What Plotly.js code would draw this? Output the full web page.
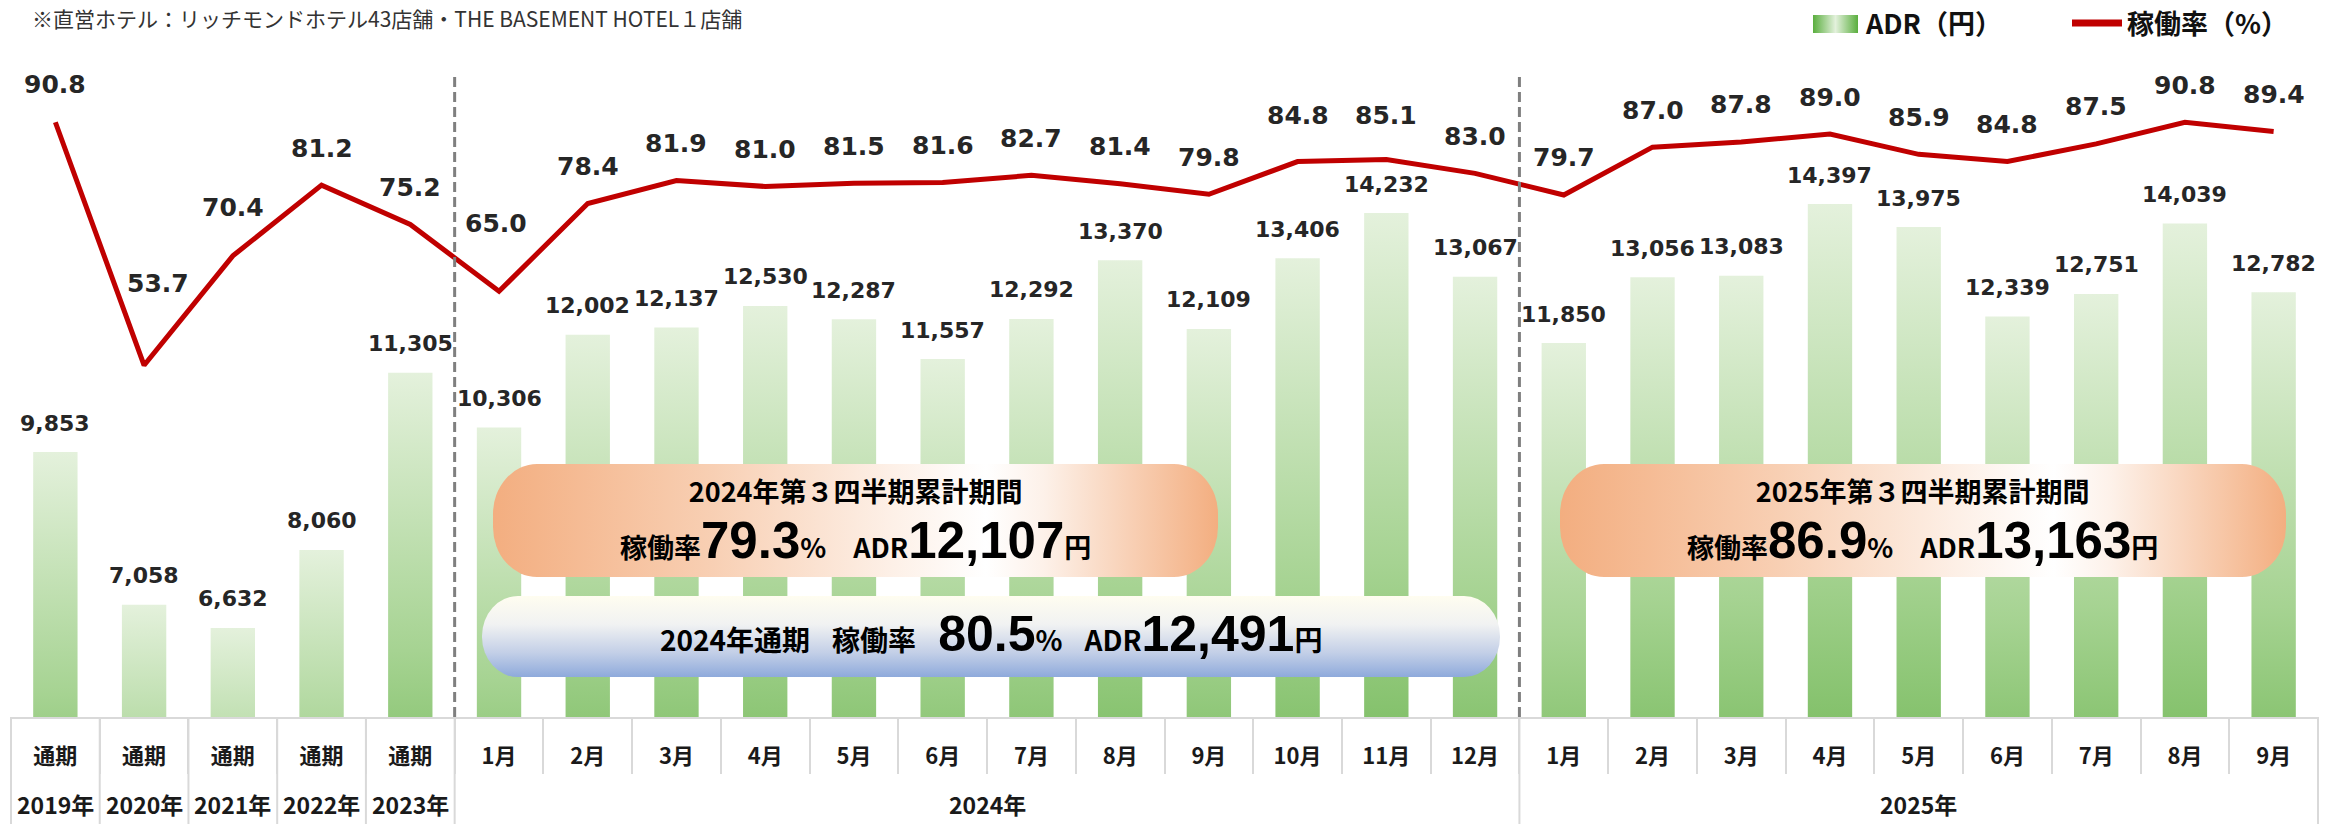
<!DOCTYPE html>
<html>
<head>
<meta charset="utf-8">
<script src="https://cdn.plot.ly/plotly-3.0.1.min.js"></script>
<style>html,body{margin:0;padding:0;background:#fff}#chart{width:2341px;height:824px}</style>
</head>
<body>
<div id="chart"></div>
<script>
// ---------- data ----------
const periodYears = ['2019年','2020年','2021年','2022年','2023年',
  '2024年','2024年','2024年','2024年','2024年','2024年','2024年','2024年','2024年','2024年','2024年','2024年',
  '2025年','2025年','2025年','2025年','2025年','2025年','2025年','2025年','2025年'];
const periods = ['通期','通期','通期','通期','通期',
  '1月','2月','3月','4月','5月','6月','7月','8月','9月','10月','11月','12月',
  '1月','2月','3月','4月','5月','6月','7月','8月','9月'];
const adr = [9853,7058,6632,8060,11305,
  10306,12002,12137,12530,12287,11557,12292,13370,12109,13406,14232,13067,
  11850,13056,13083,14397,13975,12339,12751,14039,12782];
const occupancy = [90.8,53.7,70.4,81.2,75.2,
  65.0,78.4,81.9,81.0,81.5,81.6,82.7,81.4,79.8,84.8,85.1,83.0,
  79.7,87.0,87.8,89.0,85.9,84.8,87.5,90.8,89.4];
const summaryTitles = ['2024年第３四半期累計期間','2024年通期','2025年第３四半期累計期間'];
const summaryOccupancy = [79.3, 80.5, 86.9];
const summaryAdr = [12107, 12491, 13163];
const noteText = '※直営ホテル：リッチモンドホテル43店舗・THE BASEMENT HOTEL１店舗';
const legendNames = ['ADR（円）','稼働率（%）'];

// ---------- geometry helpers (layout only) ----------
const W = 2341, H = 824, L = 11, R = 2318, T = 62, B = 717;
const px = p => (p - L) / (R - L);
const py = p => (B - p) / (B - T);
const fmt = v => v.toLocaleString('en-US');
const n = adr.length;
const xKeys = periodYears.map((y, i) => y + '|' + periods[i]);

const numFont = {family: 'DejaVu Sans', size: 22, color: '#262626', weight: 700};
const occFont = {family: 'DejaVu Sans', size: 25, color: '#262626', weight: 700};
const jpFont = 'Noto Sans CJK JP';

function gradSvg(w, h, rx, ry, vertical, stops) {
  const st = stops.map(s => `<stop offset='${s[0]}' stop-color='${s[1]}'/>`).join('');
  const g = vertical ? "x1='0' y1='0' x2='0' y2='1'" : "x1='0' y1='0' x2='1' y2='0'";
  const svg = `<svg xmlns='http://www.w3.org/2000/svg' width='${w}' height='${h}' viewBox='0 0 ${w} ${h}'>` +
    `<defs><linearGradient id='g' ${g}>${st}</linearGradient></defs>` +
    `<rect x='0' y='0' width='${w}' height='${h}' rx='${rx}' ry='${ry}' fill='url(#g)'/></svg>`;
  return 'data:image/svg+xml;charset=utf-8,' + encodeURIComponent(svg);
}
function boxImage(l, t, r, b, rx, ry, vertical, stops) {
  return {source: gradSvg(r - l, b - t, rx, ry, vertical, stops), xref: 'paper', yref: 'paper',
    x: px(l), y: py(t), sizex: (r - l) / (R - L), sizey: (b - t) / (B - T),
    xanchor: 'left', yanchor: 'top', sizing: 'stretch', layer: 'above'};
}
const orangeStops = [[0,'#f3ae80'],[0.3,'#f8cfb3'],[0.55,'#fdf0e7'],[0.68,'#ffffff'],[0.76,'#fdf1e9'],[1,'#f3ae80']];
const blueStops = [[0,'#fffdf0'],[0.35,'#f1f2f2'],[0.7,'#c3cfe7'],[1,'#8eaadb']];

// ---------- traces ----------
const traces = [
  {type: 'bar', x: xKeys, y: adr, yaxis: 'y', marker: {color: '#8cc472', line: {width: 0}},
   hoverinfo: 'skip'},
  {type: 'scatter', mode: 'lines', x: xKeys, y: occupancy, yaxis: 'y2',
   line: {color: '#c00000', width: 5}, cliponaxis: false, hoverinfo: 'skip'}
];

// ---------- annotations ----------
const ann = [];
adr.forEach((v, i) => ann.push({x: i, y: v, xref: 'x', yref: 'y', text: fmt(v), showarrow: false,
  yanchor: 'middle', yshift: 29, font: numFont}));
const occShift = {0: [38, 0], 1: [82, 14], 2: [48, 0], 5: [68, -3], 14: [46, 0], 15: [44, 0]};
occupancy.forEach((v, i) => {
  const s = occShift[i] || [37, 0];
  ann.push({x: i, y: v, xref: 'x', yref: 'y2', text: v.toFixed(1), showarrow: false,
    yanchor: 'middle', yshift: s[0], xshift: s[1], font: occFont});
});
// year row below the period labels + group dividers
const groups = [];
periodYears.forEach((y, i) => {
  if (!groups.length || groups[groups.length - 1].name !== y) groups.push({name: y, start: i, end: i});
  else groups[groups.length - 1].end = i;
});
const shapes = [];
groups.forEach(g => {
  ann.push({x: (g.start + g.end) / 2, xref: 'x', y: py(804), yref: 'paper', text: g.name, showarrow: false,
    yanchor: 'middle', font: {family: jpFont, size: 23, color: '#1a1a1a', weight: 700}});
  shapes.push({type: 'line', xref: 'paper', yref: 'paper', x0: g.start / n, x1: g.start / n, y0: 0, y1: py(824),
    line: {color: '#d9d9d9', width: 2}});
});
shapes.push({type: 'line', xref: 'paper', yref: 'paper', x0: 1, x1: 1, y0: 0, y1: py(824),
  line: {color: '#d9d9d9', width: 2}});

const sz = (t, s) => `<span style="font-size:${s}px">${t}</span>`;
const bigNum = (t, s) => `<span style="font-family:'Liberation Sans';font-size:${s}px">${t}</span>`;
// orange boxes (Q3 cumulative): two lines in one annotation
[[0, 855], [2, 1923]].forEach(([k, cx]) => {
  const text = sz(summaryTitles[k], 27) + '<br>' +
    sz('稼働率', 27) + bigNum(summaryOccupancy[k].toFixed(1), 51) + sz('%　ADR', 27) +
    bigNum(fmt(summaryAdr[k]), 51) + sz('円', 27);
  ann.push({xref: 'paper', yref: 'paper', x: px(cx), y: py(520), xanchor: 'center', yanchor: 'middle',
    text: text, showarrow: false, align: 'center', font: {family: jpFont, size: 43, color: '#000', weight: 700}});
});
// blue box (full year)
const gap = sz('　', 22);
ann.push({xref: 'paper', yref: 'paper', x: px(991), y: py(634), xanchor: 'center', yanchor: 'middle',
  text: `${summaryTitles[1]}${gap}稼働率${gap}${bigNum(summaryOccupancy[1].toFixed(1), 50)}%${gap}ADR${bigNum(fmt(summaryAdr[1]), 50)}円`,
  showarrow: false, font: {family: jpFont, size: 28, color: '#000', weight: 700}});
// note & legend
ann.push({xref: 'paper', yref: 'paper', x: px(30), y: py(1), xanchor: 'left', yanchor: 'top',
  text: noteText, showarrow: false, font: {family: jpFont, size: 21, color: '#333'}});
ann.push({xref: 'paper', yref: 'paper', x: px(1863), y: py(23), xanchor: 'left', yanchor: 'middle',
  text: legendNames[0], showarrow: false, font: {family: jpFont, size: 27, color: '#111', weight: 700}});
ann.push({xref: 'paper', yref: 'paper', x: px(2125), y: py(23), xanchor: 'left', yanchor: 'middle',
  text: legendNames[1], showarrow: false, font: {family: jpFont, size: 27, color: '#111', weight: 700}});

// ---------- dashed separators and legend line ----------
[periodYears.indexOf('2024年'), periodYears.indexOf('2025年')].forEach(idx => {
  shapes.push({type: 'line', xref: 'x', yref: 'paper', x0: idx - 0.5, x1: idx - 0.5, y0: 0, y1: py(75),
    line: {color: '#7f7f7f', width: 3, dash: '10px,5px'}, layer: 'above'});
});
shapes.push({type: 'line', xref: 'paper', yref: 'paper', x0: px(2072), x1: px(2122), y0: py(23), y1: py(23),
  line: {color: '#c00000', width: 7}});

// ---------- images (gradient boxes) ----------
const images = [
  boxImage(493, 464, 1218, 577, 44, 50, false, orangeStops),
  boxImage(1560, 464, 2286, 577, 44, 50, false, orangeStops),
  boxImage(482, 596, 1500, 677, 36, 40, true, blueStops),
  boxImage(1813, 15, 1858, 33, 0, 0, false, [[0,'#5aae3e'],[0.5,'#e3f1dc'],[1,'#5aae3e']])
];

const layout = {
  width: W, height: H, margin: {l: L, r: W - R, t: T, b: H - B, pad: 0},
  paper_bgcolor: '#fff', plot_bgcolor: '#fff', showlegend: false, bargap: 0.5,
  xaxis: {type: 'category', categoryorder: 'array', categoryarray: xKeys,
    tickmode: 'array', tickvals: xKeys, ticktext: periods,
    range: [-0.5, n - 0.5], showline: true, linecolor: '#d9d9d9', linewidth: 2,
    ticks: 'outside', ticklen: 55, tickcolor: '#d9d9d9', tickwidth: 2, tickson: 'boundaries',
    ticklabelstandoff: 19, showgrid: false, zeroline: false,
    tickfont: {family: jpFont, size: 22, color: '#1a1a1a', weight: 700}},
  yaxis: {range: [5000, 17000], visible: false, showgrid: false, zeroline: false},
  yaxis2: {range: [0, 100], overlaying: 'y', side: 'right', visible: false, showgrid: false, zeroline: false},
  shapes: shapes, images: images, annotations: ann
};

Plotly.newPlot('chart', traces, layout, {staticPlot: true, displayModeBar: false}).then(gd => {
  const ns = 'http://www.w3.org/2000/svg';
  const svg = gd.querySelector('.main-svg');
  let defs = svg.querySelector('defs');
  if (!defs) { defs = document.createElementNS(ns, 'defs'); svg.insertBefore(defs, svg.firstChild); }
  const lg = document.createElementNS(ns, 'linearGradient');
  lg.setAttribute('id', 'adrGrad');
  lg.setAttribute('x1', '0'); lg.setAttribute('y1', '0'); lg.setAttribute('x2', '0'); lg.setAttribute('y2', '1');
  [[0, '#e4f1dc'], [0.45, '#a6d392'], [1, '#4aa32a']].forEach(s => {
    const st = document.createElementNS(ns, 'stop');
    st.setAttribute('offset', s[0]); st.setAttribute('stop-color', s[1]);
    lg.appendChild(st);
  });
  defs.appendChild(lg);
  gd.querySelectorAll('.barlayer .point path').forEach(p => { p.style.fill = 'url(#adrGrad)'; });
});
</script>
</body>
</html>
